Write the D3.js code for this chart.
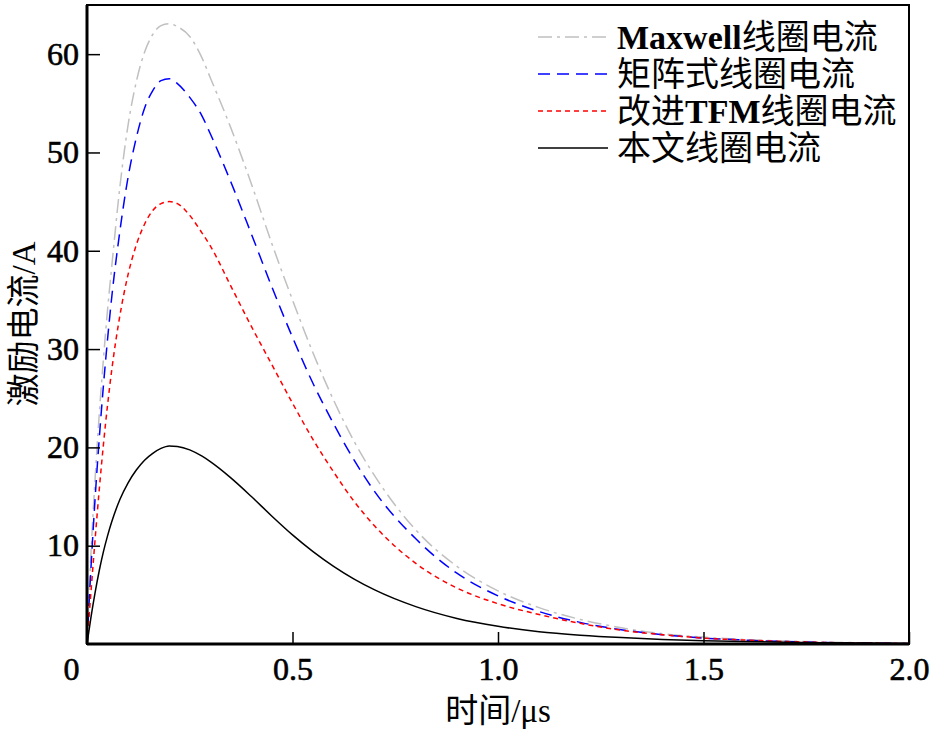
<!DOCTYPE html>
<html lang="zh">
<head>
  <meta charset="UTF-8">
  <title>激励电流</title>
  <script src="https://d3js.org/d3.v7.min.js"></script>
  <style>
    body { margin: 0; background: #fff; }
    text { font-family: "Liberation Serif", "Noto Sans CJK SC", serif; fill: #000; }
  </style>
</head>
<body>
<div id="chart"></div>
<script>
// time axis (µs), shared by all series
const times = [0, 0.01, 0.02, 0.03, 0.04, 0.05, 0.06, 0.08, 0.10, 0.12, 0.14, 0.16, 0.18, 0.20, 0.22,
  0.25, 0.28, 0.30, 0.35, 0.40, 0.45, 0.50, 0.55, 0.60, 0.65, 0.70, 0.80, 0.90, 1.00,
  1.10, 1.20, 1.30, 1.40, 1.50, 1.60, 1.70, 1.80, 1.90, 2.00];

const maxwell = [0, 9.5, 17, 23.5, 29, 34, 38.3, 46.5, 52.8, 57.2, 60.2, 62.0, 62.9, 63.1, 62.8,
  61.8, 59.6, 57.6, 52.5, 46.8, 40.7, 35.0, 29.6, 24.8, 20.6, 17.1, 11.6, 7.9, 5.4,
  3.7, 2.5, 1.65, 1.05, 0.7, 0.45, 0.3, 0.2, 0.12, 0.07];

const matrix = [0, 8, 15, 21, 26.3, 31, 35.2, 42, 47.5, 51.5, 54.5, 56.3, 57.3, 57.5, 57.0,
  55.6, 53.7, 51.9, 47.0, 41.7, 36.3, 31.2, 26.5, 22.4, 18.7, 15.5, 10.7, 7.2, 4.9,
  3.3, 2.2, 1.45, 0.95, 0.6, 0.4, 0.25, 0.15, 0.1, 0.05];

const tfm = [0, 5.5, 10.8, 15.8, 20.3, 24.3, 27.8, 33.4, 37.6, 40.6, 42.7, 44.1, 44.8, 45.0, 44.8,
  43.6, 41.8, 40.5, 36.4, 32.3, 28.4, 24.5, 20.8, 17.5, 14.5, 12.0, 8.2, 5.7, 4.1,
  3.0, 2.1, 1.4, 0.95, 0.6, 0.4, 0.25, 0.15, 0.1, 0.05];

const proposed = [0, 2.8, 5.3, 7.5, 9.4, 11.0, 12.4, 14.7, 16.4, 17.7, 18.7, 19.4, 19.9, 20.15, 20.1,
  19.75, 19.1, 18.55, 16.9, 15.0, 13.0, 11.1, 9.4, 7.9, 6.6, 5.5, 3.8, 2.6, 1.8,
  1.25, 0.9, 0.65, 0.47, 0.34, 0.25, 0.18, 0.13, 0.09, 0.06];

const seriesNames = ["Maxwell线圈电流", "矩阵式线圈电流", "改进TFM线圈电流", "本文线圈电流"];
const xTicks = [0, 0.5, 1.0, 1.5, 2.0];
const yTicks = [10, 20, 30, 40, 50, 60];

const series = [
  {name: seriesNames[0], values: maxwell, color: "#c0c0c0", dash: "14,5,3,5"},
  {name: seriesNames[1], values: matrix, color: "#0000ff", dash: "12,7"},
  {name: seriesNames[2], values: tfm, color: "#ff0000", dash: "5,4"},
  {name: seriesNames[3], values: proposed, color: "#000000", dash: null}
];

const width = 932, height = 731;
const margin = {top: 5, right: 23, bottom: 87, left: 87};

const svg = d3.select("#chart").append("svg")
  .attr("width", width)
  .attr("height", height);

const x = d3.scaleLinear().domain([0, 2]).range([margin.left, width - margin.right]);
const y = d3.scaleLinear().domain([0, 65]).range([height - margin.bottom, margin.top]);

// curves
const line = d3.line()
  .x((d, i) => x(times[i]))
  .y(d => y(d))
  .curve(d3.curveMonotoneX);

svg.append("g").selectAll("path")
  .data(series)
  .join("path")
  .attr("fill", "none")
  .attr("stroke", d => d.color)
  .attr("stroke-width", 1.5)
  .attr("stroke-dasharray", d => d.dash)
  .attr("d", d => line(d.values));

// axes, ticks pointing inward
const xAxis = svg.append("g")
  .attr("transform", `translate(0,${y(0)})`)
  .call(d3.axisBottom(x).tickValues(xTicks).tickSize(-12).tickPadding(13)
    .tickFormat(d => d === 0 ? "0" : d3.format(".1f")(d)));
const yAxis = svg.append("g")
  .attr("transform", `translate(${x(0)},0)`)
  .call(d3.axisLeft(y).tickValues(yTicks).tickSize(-13).tickPadding(8));

[xAxis, yAxis].forEach(g => {
  g.select(".domain").remove();
  g.selectAll(".tick line").attr("stroke", "#000").attr("stroke-width", 1.5);
  g.selectAll("text")
    .attr("font-size", 32)
    .attr("font-family", "Liberation Serif")
    .attr("stroke", "#000")
    .attr("stroke-width", 0.6);
});
xAxis.selectAll(".tick").filter(d => d === 0).select("text").attr("dx", -16);

// frame
svg.append("rect")
  .attr("x", x(0)).attr("y", y(65))
  .attr("width", x(2) - x(0)).attr("height", y(0) - y(65))
  .attr("fill", "none").attr("stroke", "#000").attr("stroke-width", 2);
svg.append("line")
  .attr("x1", x(0)).attr("x2", x(0)).attr("y1", y(65)).attr("y2", y(0))
  .attr("stroke", "#000").attr("stroke-width", 3);
svg.append("line")
  .attr("x1", x(0)).attr("x2", x(2)).attr("y1", y(0)).attr("y2", y(0))
  .attr("stroke", "#000").attr("stroke-width", 3);

// axis titles
svg.append("text")
  .attr("x", (x(0) + x(2)) / 2)
  .attr("y", 722)
  .attr("text-anchor", "middle")
  .attr("font-size", 33)
  .text("时间/μs");

svg.append("text")
  .attr("transform", "translate(35,324) rotate(-90)")
  .attr("text-anchor", "middle")
  .attr("font-size", 33)
  .text("激励电流/A");

// legend
const legend = svg.append("g");
const rowY = d3.scaleLinear().domain([0, 3]).range([37, 148]);
series.forEach((s, i) => {
  const ly = rowY(i);
  legend.append("line")
    .attr("x1", 538).attr("x2", 608)
    .attr("y1", ly).attr("y2", ly)
    .attr("stroke", s.color)
    .attr("stroke-width", 1.5)
    .attr("stroke-dasharray", s.dash);
  const t = legend.append("text")
    .attr("x", 617)
    .attr("y", ly + 12)
    .attr("font-size", 34);
  // latin part bold, chinese regular
  const parts = s.name.match(/[A-Za-z]+|[^A-Za-z]+/g);
  parts.forEach(p => {
    t.append("tspan")
      .attr("font-weight", /[A-Za-z]/.test(p) ? "bold" : "normal")
      .text(p);
  });
});
</script>
</body>
</html>
